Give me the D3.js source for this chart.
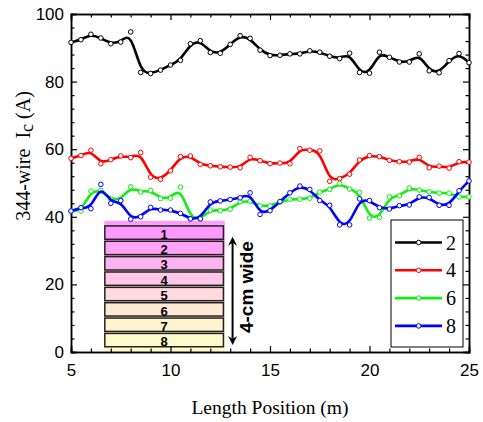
<!DOCTYPE html>
<html>
<head>
<meta charset="utf-8">
<script src="https://cdn.jsdelivr.net/npm/d3@7"></script>
<style>
  body { margin: 0; background: #fff; }
  svg { display: block; }
  .tick-label { font-family: "Liberation Sans", Arial, sans-serif; font-size: 17px; fill: #000; }
  .serif { font-family: "Liberation Serif", "Times New Roman", serif; fill: #000; }
</style>
</head>
<body>
<svg id="chart" width="483" height="422"></svg>
<script>
// Length positions (m), one reading every 0.5 m
const positions = [5, 5.5, 6, 6.5, 7, 7.5, 8, 8.5, 9, 9.5, 10, 10.5, 11, 11.5, 12, 12.5, 13, 13.5, 14, 14.5,
  15, 15.5, 16, 16.5, 17, 17.5, 18, 18.5, 19, 19.5, 20, 20.5, 21, 21.5, 22, 22.5, 23, 23.5, 24, 24.5, 25];

// Ic values (A) for each bundle width
const ic2 = [91.6, 92.4, 94.0, 92.9, 91.2, 91.7, 94.7, 82.7, 82.4, 83.4, 84.9, 86.3, 91.2, 92.1, 88.6, 88.4, 91.0, 93.6, 92.8, 89.3,
  87.7, 87.8, 88.2, 88.2, 89.1, 88.7, 87.5, 86.8, 88.4, 82.7, 82.5, 88.7, 87.2, 85.8, 85.8, 88.2, 83.2, 82.6, 86.2, 88.3, 85.6];
const ic4 = [57.3, 58.1, 59.7, 55.7, 56.9, 58.0, 57.5, 59.0, 51.7, 51.1, 53.6, 57.8, 58.0, 55.5, 55.1, 54.8, 54.7, 54.5, 57.6, 56.6,
  55.7, 55.9, 55.7, 60.2, 59.7, 59.5, 50.5, 51.3, 52.6, 56.8, 58.1, 57.8, 56.7, 56.3, 56.2, 57.6, 54.5, 55.0, 54.4, 56.3, 56.2];
const ic6 = [41.7, 41.7, 47.6, 47.8, 45.2, 45.0, 48.9, 47.3, 47.8, 45.4, 45.5, 48.8, 39.4, 39.4, 42.0, 41.8, 42.2, 44.5, 44.7, 43.2,
  43.2, 44.4, 45.2, 45.2, 45.5, 47.3, 48.1, 49.9, 48.2, 47.2, 39.6, 39.8, 45.9, 46.2, 48.5, 47.9, 47.4, 47.0, 47.0, 45.9, 45.9];
const ic8 = [41.7, 42.7, 42.4, 49.6, 44.0, 44.8, 39.3, 40.0, 42.8, 42.0, 42.0, 41.0, 39.4, 39.4, 44.4, 44.7, 45.1, 45.6, 47.1, 40.7,
  41.8, 44.5, 47.1, 49.1, 48.1, 44.8, 43.4, 37.6, 37.6, 45.3, 44.8, 42.7, 42.3, 43.3, 43.5, 45.9, 45.7, 43.4, 43.4, 47.7, 50.6];

const seriesNames = ['2', '4', '6', '8'];
const seriesColors = ['#000000', '#ff0000', '#11ee11', '#0000ff'];

// Inset: the 8 strips across the 4-cm width
const stripLabels = ['1', '2', '3', '4', '5', '6', '7', '8'];
const stripColors = ['#ff99ff', '#ffa2f8', '#ffb2f0', '#ffc6e8', '#ffdade', '#ffe8d4', '#fff4cc', '#fffacc'];

const xTicks = [5, 10, 15, 20, 25];
const yTicks = [0, 20, 40, 60, 80, 100];

const svg = d3.select('#chart');
const margin = { left: 71, top: 14, right: 14, bottom: 70 };
const width = 483 - margin.left - margin.right;   // 398
const height = 422 - margin.top - margin.bottom;  // 338

const g = svg.append('g').attr('transform', `translate(${margin.left},${margin.top})`);

const x = d3.scaleLinear().domain([5, 25]).range([0, width]);
const y = d3.scaleLinear().domain([0, 100]).range([height, 0]);

const xMinor = d3.range(5, 25.01, 1).filter(v => v % 5 !== 0);
const yMinor = d3.range(0, 100.01, 4).filter(v => v % 20 !== 0);

// --- inset diagram (drawn under the curves)
const inset = g.append('g').attr('class', 'inset');

const grad = svg.append('defs').append('linearGradient')
  .attr('id', 'insetBg').attr('x1', 0).attr('y1', 0).attr('x2', 0).attr('y2', 1);
grad.append('stop').attr('offset', '0%').attr('stop-color', stripColors[0]);
grad.append('stop').attr('offset', '50%').attr('stop-color', stripColors[4]);
grad.append('stop').attr('offset', '100%').attr('stop-color', stripColors[7]);

inset.append('rect')
  .attr('x', x(6.67))
  .attr('y', y(38.8))
  .attr('width', x(12.73) - x(6.67))
  .attr('height', y(0) - y(38.8))
  .attr('fill', 'url(#insetBg)');

const band = d3.scaleBand()
  .domain(stripLabels)
  .range([y(37.3), y(1.55)])
  .paddingInner(0.13)
  .paddingOuter(0);

inset.selectAll('.strip')
  .data(stripLabels)
  .enter().append('rect')
  .attr('class', 'strip')
  .attr('x', x(6.7))
  .attr('y', d => band(d))
  .attr('width', x(12.66) - x(6.7))
  .attr('height', band.bandwidth())
  .attr('fill', (d, i) => stripColors[i])
  .attr('stroke', '#222')
  .attr('stroke-width', 1.5);

inset.selectAll('.strip-label')
  .data(stripLabels)
  .enter().append('text')
  .attr('class', 'strip-label')
  .attr('x', (x(6.7) + x(12.66)) / 2)
  .attr('y', d => band(d) + band.bandwidth() - 0.5)
  .attr('text-anchor', 'middle')
  .style('font-family', '"Liberation Sans", Arial, sans-serif')
  .style('font-weight', 'bold')
  .style('font-size', '13px')
  .text(d => d);

// double headed arrow
const ax = x(13.12), aTop = y(34.1), aBot = y(2.1);
inset.append('line')
  .attr('x1', ax).attr('x2', ax)
  .attr('y1', aTop + 4).attr('y2', aBot - 4)
  .attr('stroke', '#000').attr('stroke-width', 2);
inset.append('path')
  .attr('d', `M${ax},${aTop} L${ax - 4.5},${aTop + 9} L${ax},${aTop + 6} L${ax + 4.5},${aTop + 9} Z`)
  .attr('fill', '#000');
inset.append('path')
  .attr('d', `M${ax},${aBot} L${ax - 4.5},${aBot - 9} L${ax},${aBot - 6} L${ax + 4.5},${aBot - 9} Z`)
  .attr('fill', '#000');

inset.append('text')
  .attr('transform', `translate(${x(13.12) + 20.5},${y(19.2)}) rotate(-90)`)
  .attr('text-anchor', 'middle')
  .style('font-family', '"Liberation Sans", Arial, sans-serif')
  .style('font-weight', 'bold')
  .style('font-size', '19px')
  .text('4-cm wide');

// --- axes (ticks inward on all four sides)
function styleAxis(sel) {
  sel.select('.domain').attr('stroke', '#000').attr('stroke-width', 1.5);
  sel.selectAll('.tick line').attr('stroke', '#000').attr('stroke-width', 1.2);
  sel.selectAll('.tick text').attr('class', 'tick-label').attr('font-family', null).attr('font-size', null);
}

g.append('g')
  .attr('transform', `translate(0,${height})`)
  .call(d3.axisBottom(x).tickValues(xTicks).tickSize(-6).tickPadding(11.6).tickFormat(d3.format('d')))
  .call(styleAxis);
g.append('g')
  .attr('transform', `translate(0,${height})`)
  .call(d3.axisBottom(x).tickValues(xMinor).tickSize(-3.5).tickFormat(''))
  .call(styleAxis);
g.append('g')
  .call(d3.axisTop(x).tickValues(xTicks).tickSize(-6).tickFormat(''))
  .call(styleAxis);
g.append('g')
  .call(d3.axisTop(x).tickValues(xMinor).tickSize(-3.5).tickFormat(''))
  .call(styleAxis);

g.append('g')
  .call(d3.axisLeft(y).tickValues(yTicks).tickSize(-6).tickPadding(7).tickFormat(d3.format('d')))
  .call(styleAxis);
g.append('g')
  .call(d3.axisLeft(y).tickValues(yMinor).tickSize(-3.5).tickFormat(''))
  .call(styleAxis);
g.append('g')
  .attr('transform', `translate(${width},0)`)
  .call(d3.axisRight(y).tickValues(yTicks).tickSize(-6).tickFormat(''))
  .call(styleAxis);
g.append('g')
  .attr('transform', `translate(${width},0)`)
  .call(d3.axisRight(y).tickValues(yMinor).tickSize(-3.5).tickFormat(''))
  .call(styleAxis);

// --- axis titles
svg.append('text')
  .attr('class', 'serif')
  .attr('x', margin.left + width / 2)
  .attr('y', 414)
  .attr('text-anchor', 'middle')
  .style('font-size', '19.5px')
  .text('Length Position (m)');

const yTitle = svg.append('text')
  .attr('class', 'serif')
  .attr('transform', 'translate(30,156) rotate(-90)')
  .attr('text-anchor', 'middle')
  .style('font-size', '20px')
  .style('white-space', 'pre');
yTitle.append('tspan').text('344-wire  I');
yTitle.append('tspan').attr('dy', 3).style('font-size', '18px').text('c');
yTitle.append('tspan').attr('dy', -3).text(' (A)');

// --- series
const allSeries = [ic2, ic4, ic6, ic8].map((vals, i) => ({
  name: seriesNames[i],
  color: seriesColors[i],
  points: positions.map((p, j) => ({ x: p, y: vals[j] }))
}));

// B-spline connection, as in the original plot
const line = d3.line()
  .x(d => x(d.x))
  .y(d => y(d.y))
  .curve(d3.curveBasis);

const plot = g.append('g');
allSeries.forEach(s => {
  plot.append('path')
    .datum(s.points)
    .attr('fill', 'none')
    .attr('stroke', s.color)
    .attr('stroke-width', 2.6)
    .attr('d', line);

  plot.selectAll(null)
    .data(s.points)
    .enter().append('circle')
    .attr('cx', d => x(d.x))
    .attr('cy', d => y(d.y))
    .attr('r', 2.3)
    .attr('fill', '#fff')
    .attr('stroke', s.color)
    .attr('stroke-width', 1);
});

// --- legend
const legend = svg.append('g').attr('class', 'legend');
legend.append('rect')
  .attr('x', 391).attr('y', 220)
  .attr('width', 72).attr('height', 127)
  .attr('fill', '#fff')
  .attr('stroke', '#000')
  .attr('stroke-width', 1);

const items = legend.selectAll('.legend-item')
  .data(allSeries)
  .enter().append('g')
  .attr('class', 'legend-item')
  .attr('transform', (d, i) => `translate(0,${242.5 + i * 27.8})`);

items.append('line')
  .attr('x1', 395).attr('x2', 442)
  .attr('stroke', d => d.color)
  .attr('stroke-width', 2.6);
items.append('circle')
  .attr('cx', 418.7).attr('r', 2.3)
  .attr('fill', '#fff')
  .attr('stroke', d => d.color)
  .attr('stroke-width', 1);
items.append('text')
  .attr('class', 'serif')
  .attr('x', 446).attr('y', 7)
  .style('font-size', '20px')
  .text(d => d.name);
</script>
</body>
</html>
